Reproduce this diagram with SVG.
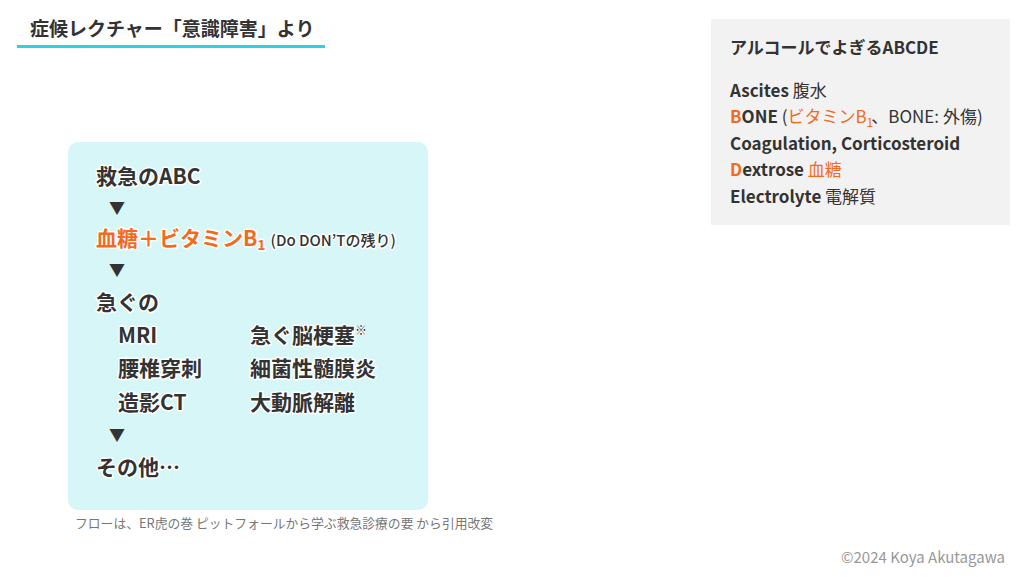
<svg xmlns="http://www.w3.org/2000/svg" width="1024" height="577" viewBox="0 0 1024 577">
<style>
text{font-family:"Noto Sans CJK JP","Noto Sans",sans-serif;fill:#333}
.b{font-weight:700}
.r{font-weight:400}
.o{fill:#f26b1d}
.main{font-size:21px;font-weight:700;stroke:#fff;stroke-width:3px;paint-order:stroke;stroke-linejoin:round}
.side{font-size:17px}
.arr{font-size:16px;font-weight:700}
</style>
<rect width="1024" height="577" fill="#fff"/>
<g id="title">
<text x="30" y="36" class="b" font-size="19">症候レクチャー「意識障害」より</text>
<rect x="17" y="45" width="308" height="3" fill="#2ad3df"/>
</g>
<g id="abcde">
<rect x="711" y="19" width="299" height="206" fill="#f2f2f2"/>
<text x="730" y="54" class="b side">アルコールでよぎるABCDE</text>
<text x="730" y="97" class="side"><tspan class="b">Ascites</tspan><tspan class="r"> 腹水</tspan></text>
<text x="730" y="123" class="side"><tspan class="b o">B</tspan><tspan class="b">ONE</tspan><tspan class="r"> (</tspan><tspan class="r o">ビタミンB</tspan><tspan class="r o" font-size="12" dy="4">1</tspan><tspan class="r" dy="-4" dx="-2">、BONE: 外傷)</tspan></text>
<text x="730" y="150" class="side b">Coagulation, Corticosteroid</text>
<text x="730" y="176" class="side"><tspan class="b o">D</tspan><tspan class="b">extrose</tspan><tspan class="r o"> 血糖</tspan></text>
<text x="730" y="203" class="side"><tspan class="b">Electrolyte</tspan><tspan class="r"> 電解質</tspan></text>
</g>
<g id="flow">
<rect x="68" y="142" width="360" height="368" rx="10" fill="#d6f6f8"/>
<text x="96" y="184" class="main">救急のABC</text>
<text x="109" y="214" class="arr">▼</text>
<text x="96" y="246" class="main"><tspan class="o">血糖＋ビタミンB</tspan><tspan class="o" font-size="14" dy="4">1</tspan><tspan font-size="15" font-weight="500" dy="-4" dx="5">(Do DON’Tの残り)</tspan></text>
<text x="109" y="276" class="arr">▼</text>
<text x="96" y="310" class="main">急ぐの</text>
<text x="118" y="343" class="main">MRI</text>
<text x="250" y="343" class="main">急ぐ脳梗塞<tspan font-size="12" dy="-8" style="stroke-width:1px">※</tspan></text>
<text x="118" y="376" class="main">腰椎穿刺</text>
<text x="250" y="376" class="main">細菌性髄膜炎</text>
<text x="118" y="410" class="main">造影CT</text>
<text x="250" y="410" class="main">大動脈解離</text>
<text x="109" y="441" class="arr">▼</text>
<text x="96" y="475" class="main">その他…</text>
</g>
<g id="notes">
<text x="75" y="528" font-size="12.8" style="fill:#777">フローは、ER虎の巻 ピットフォールから学ぶ救急診療の要 から引用改変</text>
<text x="1005" y="563" font-size="15" text-anchor="end" style="fill:#999">©2024 Koya Akutagawa</text>
</g>
</svg>
